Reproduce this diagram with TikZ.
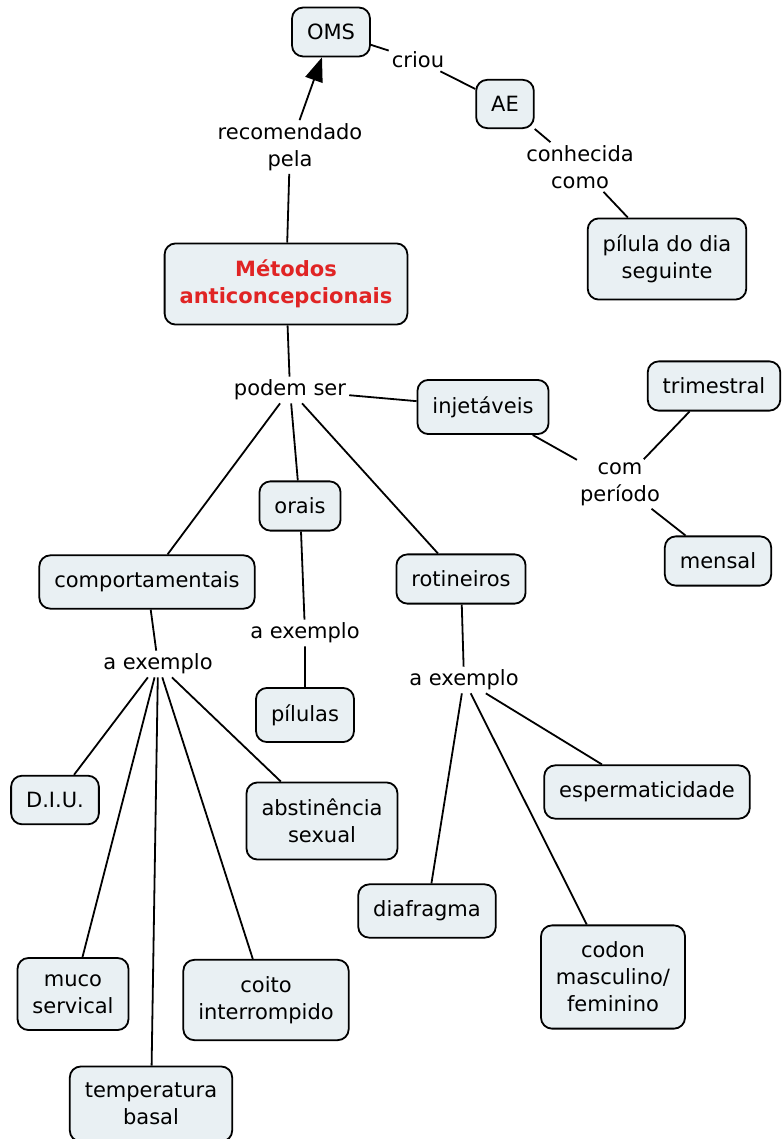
\documentclass[tikz,border=0pt]{standalone}
\usepackage{fontspec}
\setmainfont{DejaVu Sans}
\definecolor{BoxFill}{HTML}{E9F0F3}
\definecolor{TitleRed}{HTML}{E02424}
\usetikzlibrary{arrows.meta}

\begin{document}
\begin{tikzpicture}[x=1pt, y=-1pt,
    font=\fontsize{21}{27}\selectfont,
    concept/.style={draw, fill=BoxFill, line width=1.8pt, rounded corners=11pt,
      inner xsep=15pt, inner ysep=16.5pt, align=center},
    linking/.style={inner sep=3pt, align=center},
    link/.style={line width=1.8pt}]
    \useasboundingbox (0,0) rectangle (782,1139);
    % Concepts
    \node[concept] (oms) at (331,32) {OMS};
    \node[concept] (ae) at (505,104) {AE};
    \node[concept] (pilula) at (667,259) {pílula do dia\\seguinte};
    \node[concept, text=TitleRed, font=\fontsize{21}{27}\selectfont\bfseries] (metodos) at (286,284) {Métodos\\anticoncepcionais};
    \node[concept] (injetaveis) at (483,407) {injetáveis};
    \node[concept] (trimestral) at (714,386) {trimestral};
    \node[concept] (mensal) at (718,561) {mensal};
    \node[concept] (orais) at (300,506) {orais};
    \node[concept] (comport) at (147,582) {comportamentais};
    \node[concept] (rotineiros) at (461,579) {rotineiros};
    \node[concept] (pilulas) at (305,715) {pílulas};
    \node[concept] (diu) at (55,800) {D.I.U.};
    \node[concept] (abst) at (322,821) {abstinência\\sexual};
    \node[concept] (esperm) at (647,792) {espermaticidade};
    \node[concept] (diafragma) at (427,911) {diafragma};
    \node[concept] (codon) at (613,977) {codon\\masculino/\\feminino};
    \node[concept] (muco) at (73,994) {muco\\servical};
    \node[concept] (coito) at (266,1000) {coito\\interrompido};
    \node[concept] (temp) at (151,1104) {temperatura\\basal};
    % Linking phrases
    \node[linking] (lrec) at (290,147) {recomendado\\pela};
    \node[linking] (lcriou) at (418,60) {criou};
    \node[linking] (lconh) at (580,167) {conhecida\\como};
    \node[linking] (lpodem) at (290,390) {podem ser};
    \node[linking] (lcom) at (620,484) {com\\período};
    \node[linking] (lexc) at (158,664) {a exemplo};
    \node[linking] (lexo) at (305,633) {a exemplo};
    \node[linking] (lexr) at (464,680) {a exemplo};
    % Links
    \draw[link] (metodos) -- (lrec);
    \draw[link, -{Triangle[length=24pt, width=18pt]}] (lrec) -- (oms);
    \draw[link] (oms) -- (lcriou) -- (ae);
    \draw[link] (ae) -- (lconh) -- (pilula);
    \draw[link] (metodos) -- (lpodem);
    \foreach \t in {injetaveis, orais, comport, rotineiros}
      \draw[link] (lpodem) -- (\t);
    \draw[link] (injetaveis) -- (lcom);
    \draw[link] (lcom) -- (trimestral);
    \draw[link] (lcom) -- (mensal);
    \draw[link] (orais) -- (lexo) -- (pilulas);
    \draw[link] (comport) -- (lexc);
    \foreach \t in {diu, muco, temp, coito, abst}
      \draw[link] (lexc) -- (\t);
    \draw[link] (rotineiros) -- (lexr);
    \foreach \t in {diafragma, codon, esperm}
      \draw[link] (lexr) -- (\t);
\end{tikzpicture}
\end{document}
